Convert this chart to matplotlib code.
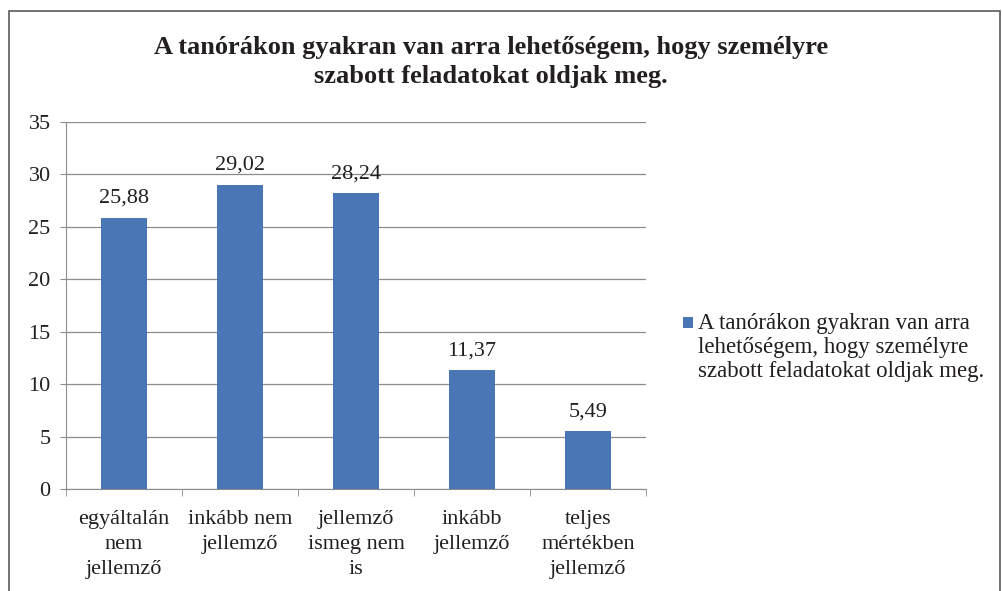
import matplotlib
matplotlib.use('Agg')
import matplotlib.pyplot as plt
from matplotlib.patches import Rectangle

categories = ['egyáltalán\nnem\njellemző', 'inkább nem\njellemző',
              'jellemző\nismeg nem\nis', 'inkább\njellemző',
              'teljes\nmértékben\njellemző']
values = [25.88, 29.02, 28.24, 11.37, 5.49]
yticks = [0, 5, 10, 15, 20, 25, 30, 35]
title = 'A tanórákon gyakran van arra lehetőségem, hogy személyre\nszabott feladatokat oldjak meg.'
series_name = 'A tanórákon gyakran van arra\nlehetőségem, hogy személyre\nszabott feladatokat oldjak meg.'

plt.rcParams['font.family'] = ['Liberation Serif', 'DejaVu Serif']
text_c = '#231f20'
bar_c = '#4a76b6'
grid_c = '#8c8c8c'

fig = plt.figure(figsize=(10.03, 5.91), dpi=100)
ax = fig.add_axes([66 / 1003, 1 - 489 / 591, 580 / 1003, 367 / 591])

x = list(range(len(values)))
ax.bar(x, values, width=0.4, color=bar_c, zorder=3)
for xi, v in zip(x, values):
    ax.annotate(f'{v:.2f}'.replace('.', ','), (xi, v), xytext=(0, 7),
                textcoords='offset points', ha='center', va='bottom',
                fontsize=16, color=text_c)

ax.set_xlim(-0.5, len(values) - 0.5)
ax.set_ylim(0, 35)
ax.set_yticks(yticks)
ax.set_yticklabels([str(t) for t in yticks], fontsize=16, color=text_c)
ax.set_xticks(x)
ax.set_xticklabels(categories, fontsize=16, color=text_c, linespacing=1.45)
ax.set_xticks([i - 0.5 for i in range(len(values) + 1)], minor=True)
ax.tick_params(axis='x', which='major', length=0, pad=15)
ax.tick_params(axis='x', which='minor', length=5, color=grid_c, direction='out')
ax.tick_params(axis='y', length=4, color=grid_c, pad=7)
ax.yaxis.grid(True, color=grid_c, linewidth=0.9, zorder=0)
for s in ['top', 'right']:
    ax.spines[s].set_visible(False)
for s in ['left', 'bottom']:
    ax.spines[s].set_color(grid_c)

fig.text(491 / 1003, 1 - 62 / 591, title, ha='center', va='center',
         fontsize=19, fontweight='bold', color=text_c, linespacing=1.35)

# legend drawn by hand so the marker sits on the first line
fig.patches.append(Rectangle((683 / 1003, 1 - 328 / 591), 10 / 1003, 11 / 591,
                             transform=fig.transFigure, facecolor=bar_c,
                             edgecolor='none'))
fig.text(698 / 1003, 1 - 313 / 591, series_name, ha='left', va='top',
         fontsize=16.5, color=text_c, linespacing=1.2)

fig.patches.append(Rectangle((9 / 1003, -0.05), 991 / 1003, 1.05 - 11 / 591,
                             transform=fig.transFigure, fill=False,
                             edgecolor='#5a5a5a', linewidth=1.2))

fig.savefig('out.png', dpi=100)
